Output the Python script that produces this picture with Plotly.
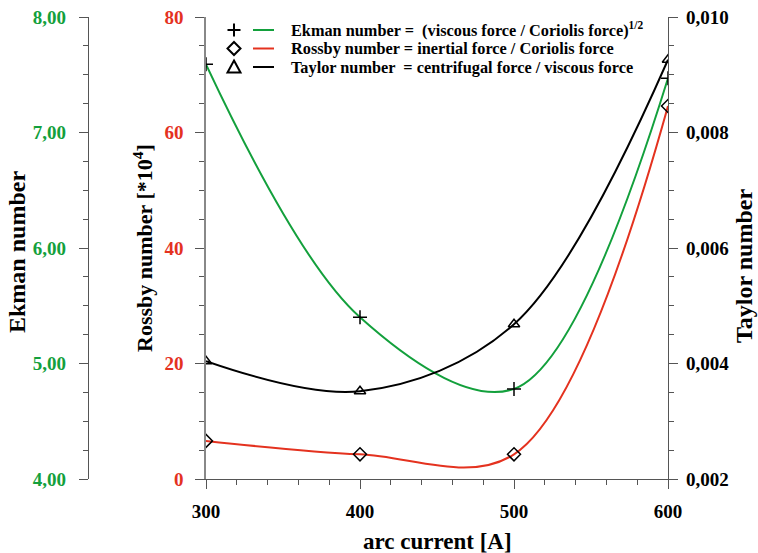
import plotly.graph_objects as go

# arc current [A]
current = [300, 400, 500, 600]
# dimensionless numbers at each current
ekman = [7.59, 5.40, 4.78, 7.47]
rossby = [6.6, 4.27, 4.27, 64.6]          # in units of 1e-4
taylor = [0.00404, 0.00352, 0.00468, 0.00926]

x_ticks = [300, 400, 500, 600]
ekman_ticks = [4.0, 5.0, 6.0, 7.0, 8.0]
rossby_ticks = [0, 20, 40, 60, 80]
taylor_ticks = [0.002, 0.004, 0.006, 0.008, 0.010]

legend_labels = [
    "Ekman number =  (viscous force / Coriolis force)<sup>1/2</sup>",
    "Rossby number = inertial force / Coriolis force",
    "Taylor number  = centrifugal force / viscous force",
]

GREEN = "#13a03c"
RED = "#e4321f"
BLACK = "#000000"
AXIS = "#555555"
FONT = "Liberation Serif"

W, H = 758, 553
x0, x1 = 206, 668          # plot area left/right in px
y_top, y_bot = 17, 479     # plot area top/bottom in px
ekman_axis_px = 88


def px_(x):
    """pixel column -> paper x coordinate"""
    return x / W


def py(y):
    """pixel row -> paper y coordinate"""
    return (y_bot - y) / (y_bot - y_top)


series = [
    (ekman, GREEN, "cross-thin-open", "y2"),
    (rossby, RED, "diamond-open", "y"),
    (taylor, BLACK, "triangle-up-open", "y3"),
]

fig = go.Figure()

# smooth curves
for vals, color, sym, yax in series:
    fig.add_trace(go.Scatter(
        x=current, y=vals, yaxis=yax, mode="lines",
        line=dict(color=color, width=2, shape="spline", smoothing=1.0),
        showlegend=False, hoverinfo="skip",
    ))

# measured points
for vals, color, sym, yax in series:
    fig.add_trace(go.Scatter(
        x=current, y=vals, yaxis=yax, mode="markers",
        marker=dict(symbol=sym, size=10, color=BLACK,
                    line=dict(color=BLACK, width=1.5)),
        showlegend=False, hoverinfo="skip",
    ))


def tickfont(c):
    return dict(family=FONT, size=19, color=c, weight="bold")


common = dict(showgrid=False, zeroline=False, automargin=False,
              ticks="outside", ticklen=9, tickwidth=1.2, tickcolor=AXIS)

fig.update_layout(
    width=W, height=H,
    margin=dict(l=0, r=0, t=y_top, b=H - y_bot),
    paper_bgcolor="white", plot_bgcolor="white",
    separators=",.",
    showlegend=False,
    font=dict(family=FONT, color=BLACK),
    xaxis=dict(
        domain=[x0 / W, x1 / W], range=[300, 600], tickvals=x_ticks,
        minor=dict(dtick=20, ticks="outside", ticklen=5, tickcolor=AXIS),
        showline=True, linecolor=AXIS, linewidth=1.2,
        tickfont=tickfont(BLACK), ticklabelstandoff=6, **common,
    ),
    yaxis=dict(
        range=[0, 80], tickvals=rossby_ticks,
        minor=dict(dtick=5, ticks="outside", ticklen=5, tickcolor=AXIS),
        showline=True, linecolor="#888888", linewidth=1.5,
        tickfont=tickfont(RED), ticklabelstandoff=8, **common,
    ),
    yaxis2=dict(
        range=[4, 8], tickvals=ekman_ticks, tickformat=".2f", overlaying="y",
        anchor="free", position=ekman_axis_px / W, side="left",
        minor=dict(dtick=0.25, ticks="outside", ticklen=5, tickcolor=AXIS),
        showline=True, linecolor=AXIS, linewidth=1.2,
        tickfont=tickfont(GREEN), ticklabelstandoff=9, **common,
    ),
    yaxis3=dict(
        range=[0.002, 0.010], tickvals=taylor_ticks, tickformat=".3f", overlaying="y",
        anchor="x", side="right",
        minor=dict(dtick=0.0005, ticks="outside", ticklen=5, tickcolor=AXIS),
        showline=True, linecolor=AXIS, linewidth=1.2,
        tickfont=tickfont(BLACK), ticklabelstandoff=4, **common,
    ),
)

# ---- legend box: symbol, coloured line, label (tight line spacing) ----
leg_rows = [30, 48.5, 67]
sym_x, line_x0, line_x1, text_x = 234, 253, 274, 289
r = 6.5  # half size of legend symbols in px


def path(points):
    return "M " + " L ".join(f"{px_(a)},{py(b)}" for a, b in points)


sym_style = dict(type="path", xref="paper", yref="paper",
                 line=dict(color=BLACK, width=2))
for (vals, color, sym, yax), label, yc in zip(series, legend_labels, leg_rows):
    if sym.startswith("cross"):
        fig.add_shape(path=path([(sym_x - r, yc), (sym_x + r, yc)]) + " " +
                      path([(sym_x, yc - r), (sym_x, yc + r)]), **sym_style)
    elif sym.startswith("diamond"):
        fig.add_shape(path=path([(sym_x, yc - r), (sym_x + r, yc), (sym_x, yc + r),
                                 (sym_x - r, yc)]) + " Z", **sym_style)
    else:
        fig.add_shape(path=path([(sym_x, yc - r), (sym_x + r, yc + r - 1),
                                 (sym_x - r, yc + r - 1)]) + " Z", **sym_style)
    fig.add_shape(type="line", xref="paper", yref="paper",
                  x0=px_(line_x0), x1=px_(line_x1), y0=py(yc), y1=py(yc),
                  line=dict(color=color, width=2))
    fig.add_annotation(text=label, x=px_(text_x), y=py(yc), xref="paper", yref="paper",
                       showarrow=False, xanchor="left", yanchor="middle",
                       font=dict(family=FONT, size=16.3, color=BLACK, weight="bold"))

# ---- axis titles ----
for text, xpx, ypx, size in [
    ("Ekman number", 17, 252, 24),
    ("Rossby number [*10<sup>4</sup>]", 143, 248, 22),
    ("Taylor number", 744, 266, 24),
]:
    fig.add_annotation(text=text, textangle=-90, x=px_(xpx), y=py(ypx),
                       xref="paper", yref="paper", showarrow=False,
                       xanchor="center", yanchor="middle",
                       font=dict(family=FONT, size=size, color=BLACK, weight="bold"))
fig.add_annotation(text="arc current [A]", x=px_(437), y=py(541),
                   xref="paper", yref="paper", showarrow=False,
                   xanchor="center", yanchor="middle",
                   font=dict(family=FONT, size=23, color=BLACK, weight="bold"))

fig.write_html("out.html")
